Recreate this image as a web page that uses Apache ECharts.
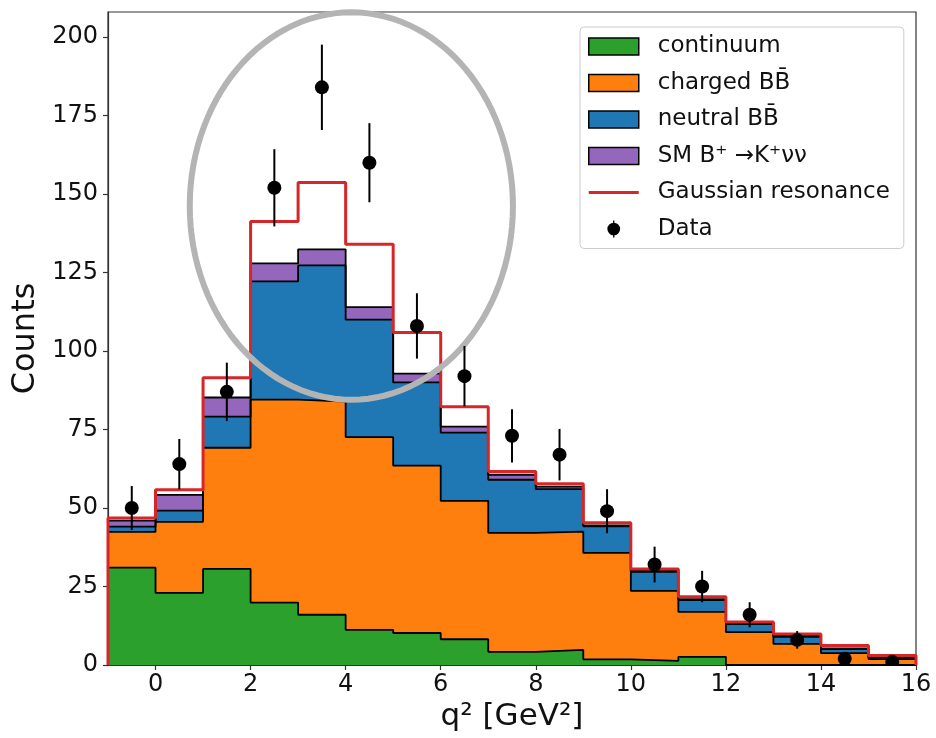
<!DOCTYPE html>
<html>
<head>
<meta charset="utf-8">
<script src="https://cdn.jsdelivr.net/npm/echarts@6/dist/echarts.min.js"></script>
<style>html,body{margin:0;padding:0;background:#fff}#c{width:936px;height:738px}</style>
</head>
<body>
<div id="c"></div>
<script>
// bin edges of the q^2 histogram (GeV^2)
const binEdges = [-1,0,1,2,3,4,5,6,7,8,9,10,11,12,13,14,15,16];
const binCenters = [-0.5,0.5,1.5,2.5,3.5,4.5,5.5,6.5,7.5,8.5,9.5,10.5,11.5,12.5,13.5,14.5,15.5];
const xTicks = [0,2,4,6,8,10,12,14,16];
const yTicks = [0,25,50,75,100,125,150,175,200];

// stacked components (counts per bin)
const continuum = [31.0,23.0,30.6,19.9,16.0,11.2,10.2,8.2,4.2,4.8,1.8,1.3,2.6,0,0,0,0];
const chargedBB = [11.4,22.6,38.6,64.6,67.9,61.4,53.3,44.1,37.9,37.7,33.9,22.3,14.3,10.5,6.7,3.8,1.9];
const neutralBB = [1.7,3.6,9.9,37.7,43.4,37.4,26.5,21.7,16.9,13.5,8.5,6.1,3.8,2.5,2.3,1.3,0.5];
const smSignal  = [1.9,5.0,6.1,5.7,5.1,4.0,2.8,1.9,1.6,0.8,0.3,0.3,0.3,0.3,0.3,0.2,0.2];
// total including Gaussian resonance (red outline)
const totalWithResonance = [46.8,55.8,91.5,141.3,153.7,134.0,105.9,82.3,61.6,57.7,45.3,30.6,21.7,13.7,9.9,6.2,3.0];
// data points and their errors
const dataCounts = [50,64,87,152,184,160,108,92,73,67,49,32,25,16,8,2,1];
const dataErrors = [7.0,8.0,9.3,12.3,13.6,12.6,10.4,9.6,8.5,8.2,7.0,5.7,5.0,4.0,2.8,1.4,1.0];

// annotation ellipse in data coordinates
const ellipseAnn = {cx: 4.12, cy: 146.2, rx: 3.40, ry: 61.7};

const FONT = 'DejaVu Sans';
const C_GREEN = '#2ca02c', C_ORANGE = '#ff7f0e', C_BLUE = '#1f77b4', C_PURPLE = '#9467bd', C_RED = '#d62728';

// cumulative stacking (bottom to top)
function addArr(a, b) { return a.map((v, i) => v + b[i]); }
const cumGreen = continuum.slice();
const cumOrange = addArr(cumGreen, chargedBB);
const cumBlue = addArr(cumOrange, neutralBB);
const cumPurple = addArr(cumBlue, smSignal);

function stepData(vals) {
  return binEdges.map((e, i) => [e, vals[Math.min(i, vals.length - 1)]]);
}

function layer(name, cum, color) {
  return {
    name: name, type: 'line', step: 'end', symbol: 'none',
    data: [[-1, 0]].concat(stepData(cum), [[16, 0]]),
    lineStyle: {color: '#000', width: 1.8},
    itemStyle: {color: color},
    areaStyle: {color: color, opacity: 1, origin: 'start'},
    emphasis: {disabled: true},
    z: 2
  };
}

const names = ['continuum', 'charged B\u0042\u0304', 'neutral B\u0042\u0304', 'SM B\u207A \u2192K\u207A\u03BD\u03BD', 'Gaussian resonance', 'Data'];

const chart = echarts.init(document.getElementById('c'), null, {renderer: 'canvas'});

const option = {
  animation: false,
  textStyle: {fontFamily: FONT},
  grid: {left: 108, right: 20, top: 12, bottom: 73, show: true, borderColor: '#333', borderWidth: 1.2, backgroundColor: 'transparent'},
  xAxis: {
    type: 'value', min: -1, max: 16,
    name: 'q\u00B2 [GeV\u00B2]', nameLocation: 'middle', nameGap: 35,
    nameTextStyle: {fontSize: 31, color: '#111', fontFamily: FONT},
    axisLine: {show: true, onZero: false, lineStyle: {color: '#333', width: 1.2}},
    axisTick: {show: true, length: 5, customValues: xTicks, lineStyle: {color: '#333', width: 1.2}},
    axisLabel: {customValues: xTicks, fontSize: 24, color: '#111', margin: 8, fontFamily: FONT},
    splitLine: {show: false}
  },
  yAxis: {
    type: 'value', min: 0, max: 208,
    name: 'Counts', nameLocation: 'middle', nameGap: 64,
    nameTextStyle: {fontSize: 32, color: '#111', fontFamily: FONT},
    axisLine: {show: true, onZero: false, lineStyle: {color: '#333', width: 1.2}},
    axisTick: {show: true, length: 5, customValues: yTicks, lineStyle: {color: '#333', width: 1.2}},
    axisLabel: {customValues: yTicks, fontSize: 24, color: '#111', margin: 10, fontFamily: FONT},
    splitLine: {show: false}
  },
  legend: {
    orient: 'vertical', left: 580, top: 27,
    padding: [8, 14, 8, 8],
    itemWidth: 50, itemHeight: 17, itemGap: 13.5,
    backgroundColor: 'rgba(255,255,255,0.85)', borderColor: '#ccc', borderWidth: 1, borderRadius: 4,
    textStyle: {fontSize: 23, color: '#111', fontFamily: FONT, padding: [0, 0, 0, 14]},
    selectedMode: false,
    data: [
      {name: names[0], icon: 'rect', itemStyle: {color: C_GREEN, borderColor: '#000', borderWidth: 1.5}},
      {name: names[1], icon: 'rect', itemStyle: {color: C_ORANGE, borderColor: '#000', borderWidth: 1.5}},
      {name: names[2], icon: 'rect', itemStyle: {color: C_BLUE, borderColor: '#000', borderWidth: 1.5}},
      {name: names[3], icon: 'rect', itemStyle: {color: C_PURPLE, borderColor: '#000', borderWidth: 1.5}},
      {name: names[4], icon: 'path://M0,9 L50,9 L50,12 L0,12 Z', itemStyle: {color: C_RED, borderWidth: 0}},
      {name: names[5], icon: 'path://M9.2,0 L10.8,0 L10.8,20 L9.2,20 Z M10,2.5 A7.5,7.5 0 1 1 9.99,2.5 Z', itemStyle: {color: '#000', borderWidth: 0}}
    ]
  },
  series: [
    // drawn top layer first so lower layers paint over it
    layer(names[3], cumPurple, C_PURPLE),
    layer(names[2], cumBlue, C_BLUE),
    layer(names[1], cumOrange, C_ORANGE),
    layer(names[0], cumGreen, C_GREEN),
    {
      name: names[4], type: 'line', step: 'end', symbol: 'none',
      data: [[-1, 0]].concat(stepData(totalWithResonance), [[16, 0]]),
      lineStyle: {color: C_RED, width: 3},
      itemStyle: {color: C_RED},
      emphasis: {disabled: true},
      z: 4
    },
    {
      name: names[5], type: 'custom', clip: true, z: 6,
      itemStyle: {color: '#000'},
      data: binCenters.map((x, i) => [x, dataCounts[i], dataErrors[i]]),
      renderItem: function (params, api) {
        const x = api.value(0), y = api.value(1), e = api.value(2);
        const c = api.coord([x, y]);
        const top = api.coord([x, y + e]);
        const bot = api.coord([x, Math.max(0, y - e)]);
        return {
          type: 'group',
          children: [
            {type: 'line', shape: {x1: c[0], y1: top[1], x2: c[0], y2: bot[1]}, style: {stroke: '#000', lineWidth: 2}},
            {type: 'circle', shape: {cx: c[0], cy: c[1], r: 7}, style: {fill: '#000'}}
          ]
        };
      }
    }
  ]
};

chart.setOption(option);

// annotation ellipse drawn from data coordinates
const pts = [];
for (let k = 0; k < 120; k++) {
  const t = 2 * Math.PI * k / 120;
  pts.push(chart.convertToPixel({gridIndex: 0}, [ellipseAnn.cx + ellipseAnn.rx * Math.cos(t), ellipseAnn.cy + ellipseAnn.ry * Math.sin(t)]));
}
chart.setOption({
  graphic: [{
    type: 'polygon', z: 5, silent: true,
    shape: {points: pts},
    style: {fill: 'none', stroke: '#b4b4b4', lineWidth: 6}
  }]
});
</script>
</body>
</html>
